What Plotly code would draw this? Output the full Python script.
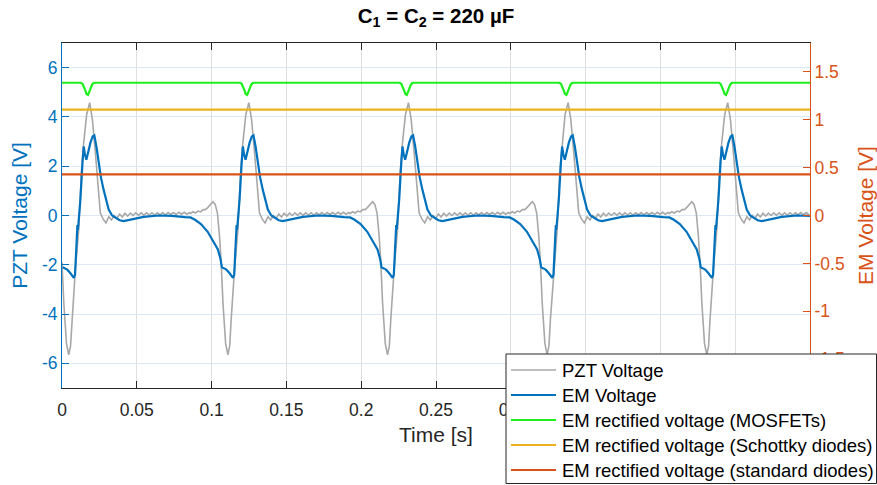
import plotly.graph_objects as go

# ---------------- data ----------------
# time of each PZT voltage minimum (start of each excitation cycle) [s]
CYCLE_T = [0.0045, 0.1109, 0.2176, 0.3243, 0.4310]

# PZT voltage over one cycle, time relative to the PZT minimum [s], value [V] (left axis)
PZT_REL_T = [-0.0250, -0.0233, -0.0217, -0.0200, -0.0183, -0.0165, -0.0150, -0.0135, -0.0120,
             -0.0100, -0.0085, -0.0070, -0.0056, -0.0045, -0.0033, -0.0015, 0.0000, 0.0012,
             0.0022, 0.0044, 0.0067, 0.0085, 0.0100, 0.0120, 0.0140, 0.0158, 0.0178, 0.0195,
             0.0211, 0.0230, 0.0249, 0.0268, 0.0286, 0.0304, 0.0322, 0.0340, 0.0358, 0.0376,
             0.0394, 0.0412, 0.0430, 0.0448, 0.0466, 0.0484, 0.0502, 0.0520, 0.0538, 0.0556,
             0.0574, 0.0592, 0.0610, 0.0628, 0.0646, 0.0664, 0.0682, 0.0700, 0.0718, 0.0736,
             0.0754, 0.0772, 0.0790, 0.0808]
PZT_V = [0.08, 0.15, 0.10, 0.18, 0.15, 0.24, 0.24, 0.32, 0.42,
         0.56, 0.45, 0.10, -0.84, -1.90, -3.55, -5.20, -5.65, -5.30,
         -4.20, -2.20, -0.57, 1.80, 2.95, 4.10, 4.58, 3.90, 2.55, 1.20,
         0.11, -0.15, -0.30, -0.05, -0.18, 0.00, -0.12, 0.06, -0.06, 0.09,
         -0.02, 0.10, 0.00, 0.11, 0.01, 0.11, 0.01, 0.11, 0.02, 0.11,
         0.02, 0.11, 0.03, 0.12, 0.03, 0.12, 0.04, 0.12, 0.04, 0.13,
         0.05, 0.13, 0.05, 0.12]

# EM voltage over one cycle, same relative time base [s], value [V] (right axis)
EM_REL_T = [-0.0250, -0.0220, -0.0180, -0.0135, -0.0100, -0.0067, -0.0050, -0.0040, -0.0025,
            -0.0010, 0.0010, 0.0025, 0.0034, 0.0042, 0.0049, 0.0056, 0.0058, 0.0060, 0.0064,
            0.0078, 0.0092, 0.0100, 0.0108, 0.0118, 0.0130, 0.0145, 0.0160, 0.0171, 0.0185,
            0.0200, 0.0215, 0.0233, 0.0250, 0.0267, 0.0290, 0.0311, 0.0340, 0.0367, 0.0400,
            0.0444, 0.0500, 0.0601, 0.0690, 0.0778, 0.0808]
EM_V = [-0.020, -0.045, -0.090, -0.170, -0.260, -0.354, -0.450, -0.540, -0.552,
        -0.565, -0.600, -0.640, -0.650, -0.620, -0.420, -0.150, -0.100, -0.150, -0.100,
        0.167, 0.550, 0.720, 0.640, 0.583, 0.660, 0.760, 0.825, 0.837, 0.720,
        0.550, 0.400, 0.270, 0.150, 0.063, 0.000, -0.024, -0.050, -0.059, -0.050,
        -0.031, -0.015, 0.000, -0.004, -0.017, -0.018]

# rectified voltage with MOSFETs over one cycle (right axis)
MOS_REL_T = [-0.0250, -0.0045, 0.0080, 0.0092, 0.0102, 0.0112, 0.0119, 0.0124, 0.0129, 0.0136,
             0.0146, 0.0156, 0.0166, 0.0175, 0.0690, 0.0808]
MOS_V = [1.385, 1.385, 1.385, 1.375, 1.345, 1.300, 1.268, 1.256, 1.258, 1.285,
         1.330, 1.365, 1.382, 1.385, 1.385, 1.385]

# rectified voltages with diodes (flat, right axis)
FLAT_T = [0.0, 0.5]
SCHOTTKY_V = [1.104, 1.104]
STANDARD_V = [0.430, 0.430]

X_TICKS = [0, 0.05, 0.1, 0.15, 0.2, 0.25, 0.3, 0.35, 0.4, 0.45, 0.5]
# labels from 0.35 on are hidden under the legend in the reference
X_TICK_TEXT = ["0", "0.05", "0.1", "0.15", "0.2", "0.25", "0.3", "", "", "", ""]
YL_TICKS = [-6, -4, -2, 0, 2, 4, 6]
YL_TICK_TEXT = ["-6", "-4", "-2", "0", "2", "4", "6"]
YR_TICKS = [-1.5, -1, -0.5, 0, 0.5, 1, 1.5]
YR_TICK_TEXT = ["-1.5", "-1", "-0.5", "0", "0.5", "1", "1.5"]

SERIES_NAMES = ["PZT Voltage", "EM Voltage", "EM rectified voltage (MOSFETs)",
                "EM rectified voltage (Schottky diodes)", "EM rectified voltage (standard diodes)"]
SERIES_COLORS = ["#A8A8A8", "#0072BD", "#1EF01E", "#EDB120", "#D95319"]


def build(rel_t, vals, t_end=0.5):
    ts, vs = [], []
    for tm in CYCLE_T:
        for r, v in zip(rel_t, vals):
            t = tm + r
            if 0 <= t <= t_end + 1e-9:
                ts.append(t)
                vs.append(v)
    return ts, vs


pzt_t, pzt_v = build(PZT_REL_T, PZT_V)
em_t, em_v = build(EM_REL_T, EM_V)
mos_t, mos_v = build(MOS_REL_T, MOS_V)

BLUE = "#0072BD"
ORANGE = "#D95319"
DARK = "#262626"
FONT = "Liberation Sans, Arial, sans-serif"

W, H = 877, 485
ML, MR, MT, MB = 62, 67, 43, 97
PW, PH = W - ML - MR, H - MT - MB


def px2x(px):
    return (px - ML) / PW


def py2y(py):
    return (H - MB - py) / PH


series = [
    (pzt_t, pzt_v, "y", 1.6),
    (em_t, em_v, "y2", 2.2),
    (mos_t, mos_v, "y2", 2.2),
    (FLAT_T, SCHOTTKY_V, "y2", 2.2),
    (FLAT_T, STANDARD_V, "y2", 2.2),
]

fig = go.Figure()
for (xs, ys, ax, lw), name, col in zip(series, SERIES_NAMES, SERIES_COLORS):
    fig.add_trace(go.Scatter(x=xs, y=ys, mode="lines", name=name,
                             line=dict(color=col, width=lw), yaxis=ax, showlegend=False))

# legend box drawn like the MATLAB legend
shapes = [dict(type="rect", xref="paper", yref="paper", x0=px2x(506), x1=px2x(876.5),
               y0=py2y(354), y1=py2y(483.5), fillcolor="white",
               line=dict(color=DARK, width=1), layer="above")]
annotations = []
for i, (name, col) in enumerate(zip(SERIES_NAMES, SERIES_COLORS)):
    yc = 370 + 25 * i
    shapes.append(dict(type="line", xref="paper", yref="paper", x0=px2x(511), x1=px2x(556),
                       y0=py2y(yc), y1=py2y(yc), line=dict(color=col, width=2.2 if i else 1.6),
                       layer="above"))
    annotations.append(dict(text=name, xref="paper", yref="paper", x=px2x(560), y=py2y(yc),
                            xanchor="left", yanchor="middle", showarrow=False,
                            font=dict(size=18.5, color="black", family=FONT)))

fig.update_layout(
    width=W, height=H,
    margin=dict(l=ML, r=MR, t=MT, b=MB, autoexpand=False),
    paper_bgcolor="white", plot_bgcolor="white",
    font=dict(family=FONT, color=DARK),
    title=dict(text="<b>C<sub>1</sub> = C<sub>2</sub> = 220 µF</b>", x=436 / W,
               xanchor="center", y=1 - 16 / H, yanchor="middle",
               font=dict(size=20.5, color="black", family=FONT)),
    xaxis=dict(range=[0, 0.5], tickvals=X_TICKS, ticktext=X_TICK_TEXT, ticks="inside", ticklen=7,
               tickcolor=DARK, showline=True, linecolor=DARK, linewidth=1, mirror="ticks",
               showgrid=True, gridcolor="#DFDFDF", gridwidth=1, zeroline=False,
               tickfont=dict(size=17.5, color=DARK), ticklabelstandoff=6,
               title=dict(text="Time [s]", font=dict(size=21, color=DARK), standoff=8)),
    yaxis=dict(range=[-7, 7], tickvals=YL_TICKS, ticktext=YL_TICK_TEXT, ticks="inside", ticklen=7,
               tickcolor=BLUE, showline=True, linecolor=BLUE, linewidth=1,
               showgrid=True, gridcolor="#DAE9F5", gridwidth=1, zeroline=False,
               tickfont=dict(size=17.5, color=BLUE),
               title=dict(text="PZT Voltage [V]", font=dict(size=21, color=BLUE), standoff=8)),
    yaxis2=dict(range=[-1.8, 1.8], overlaying="y", side="right", tickvals=YR_TICKS,
                ticktext=YR_TICK_TEXT, ticks="inside", ticklen=7, tickcolor=ORANGE,
                showline=True, linecolor=ORANGE, linewidth=1, showgrid=False, zeroline=False,
                tickfont=dict(size=17.5, color=ORANGE),
                title=dict(text="EM Voltage [V]", font=dict(size=21, color=ORANGE), standoff=15)),
    shapes=shapes,
    annotations=annotations,
    showlegend=False,
)

fig.write_html("out.html", config={"displayModeBar": False},
               post_script="document.body.style.margin='0px';")
